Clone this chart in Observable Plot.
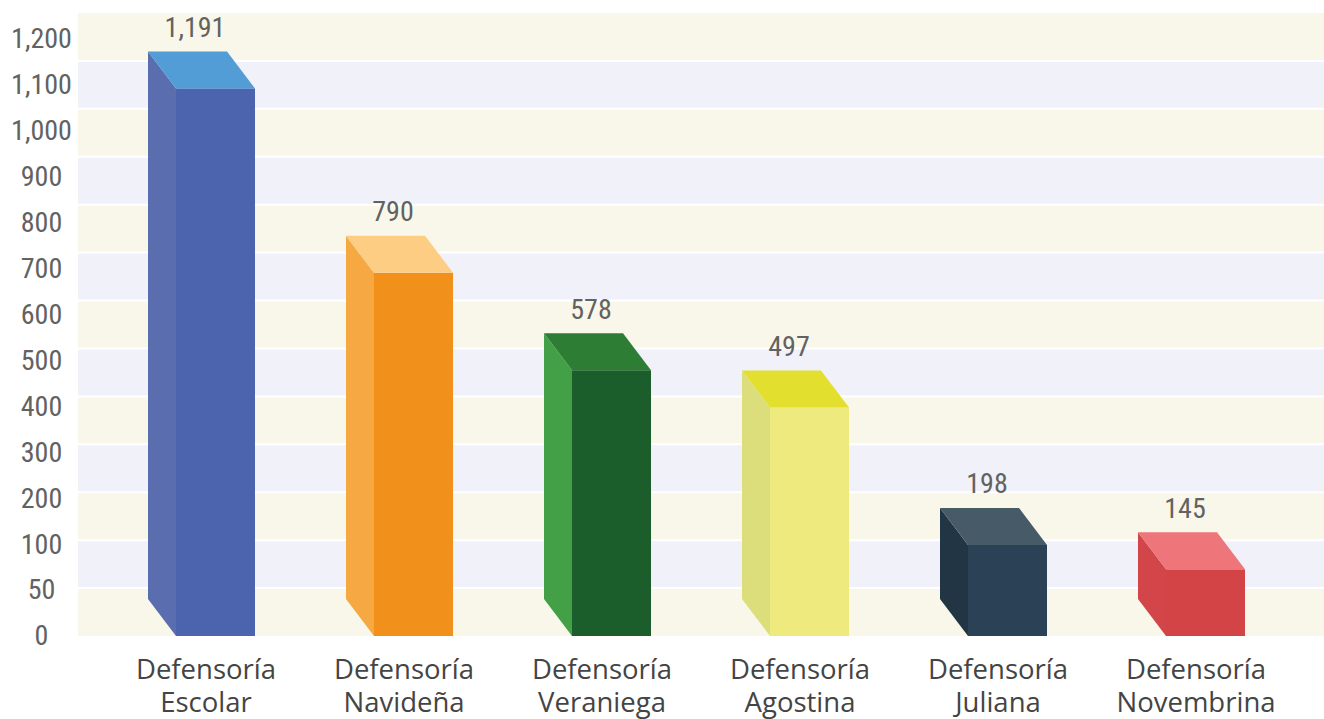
<!DOCTYPE html>
<html>
<head>
<meta charset="utf-8">
<script src="https://cdn.jsdelivr.net/npm/d3@7"></script>
<script src="https://cdn.jsdelivr.net/npm/@observablehq/plot@0.6"></script>
<style>
  html, body { margin: 0; padding: 0; background: #ffffff; }
  #chart { width: 1324px; height: 719px; }
</style>
</head>
<body>
<div id="chart"></div>
<script>
// ---- data ----
const categories = ["Defensoría Escolar", "Defensoría Navideña", "Defensoría Veraniega", "Defensoría Agostina", "Defensoría Juliana", "Defensoría Novembrina"];
const xLabels = ["Defensoría\nEscolar", "Defensoría\nNavideña", "Defensoría\nVeraniega", "Defensoría\nAgostina", "Defensoría\nJuliana", "Defensoría\nNovembrina"];
const counts = [1191, 790, 578, 497, 198, 145];
const tickValues = [0, 100, 200, 300, 400, 500, 600, 700, 800, 900, 1000, 1100, 1200, 1300];
const tickLabels = ["0", "50", "100", "200", "300", "400", "500", "600", "700", "800", "900", "1,000", "1,100", "1,200"];

// ---- palette ----
const frontColors = ["#4c63ad", "#f2901c", "#1b5e2b", "#eeea7e", "#2b4155", "#d24445"];
const sideColors  = ["#5a6dae", "#f6a843", "#43a047", "#dcde7c", "#223544", "#d24548"];
const topColors   = ["#529dd6", "#fdcd84", "#2e7d35", "#e2df2e", "#475a67", "#ee767a"];
const stripeColors = ["#f9f7e9", "#f1f1fa"];

const data = categories.map((c, i) => ({name: c, value: counts[i], i}));

const FRONT_DX = 10;   // front face offset (px)
const DEPTH_X = 28;    // 3D depth (px)
const DEPTH_Y = 37;
const numFont = "'Liberation Sans Narrow', 'Roboto Condensed', 'Arial Narrow', Roboto, sans-serif";

function findScales(args) {
  return args.find(a => a && typeof a.x === "function" && typeof a.y === "function");
}
function findDims(args) {
  return args.find(a => a && typeof a.marginTop === "number" && typeof a.width === "number");
}

// background stripes (13 equal horizontal bands of the frame)
function stripes(...args) {
  const d = findDims(args);
  const g = d3.create("svg:g");
  const top = d.marginTop, bottom = d.height - d.marginBottom;
  const left = d.marginLeft, right = d.width - d.marginRight;
  const n = 13, h = (bottom - top) / n;
  for (let k = 0; k < n; k++) {
    g.append("rect")
      .attr("x", left).attr("y", top + k * h)
      .attr("width", right - left).attr("height", h)
      .attr("fill", stripeColors[k % 2]);
  }
  for (let k = 1; k < n; k++) {
    g.append("line")
      .attr("x1", left).attr("x2", right)
      .attr("y1", top + k * h).attr("y2", top + k * h)
      .attr("stroke", "#ffffff").attr("stroke-width", 2);
  }
  return g.node();
}

// side and top faces of the 3D bars, positioned through Plot's scales
function faces(...args) {
  const s = findScales(args);
  const bw = s.x.bandwidth ? s.x.bandwidth() : s.scales.x.bandwidth;
  const g = d3.create("svg:g");
  data.forEach(d => {
    const xf = s.x(d.name) + FRONT_DX;
    const yt = s.y(d.value);
    const yb = s.y(0);
    g.append("path")
      .attr("d", `M${xf},${yt}L${xf},${yb}L${xf - DEPTH_X},${yb - DEPTH_Y}L${xf - DEPTH_X},${yt - DEPTH_Y}Z`)
      .attr("fill", sideColors[d.i]);
    g.append("path")
      .attr("d", `M${xf},${yt}L${xf + bw},${yt}L${xf + bw - DEPTH_X},${yt - DEPTH_Y}L${xf - DEPTH_X},${yt - DEPTH_Y}Z`)
      .attr("fill", topColors[d.i]);
  });
  return g.node();
}

const fmt = d3.format(",");

const chart = Plot.plot({
  width: 1324,
  height: 719,
  marginTop: 13,
  marginBottom: 83,
  marginLeft: 78,
  marginRight: 0,
  style: {background: "#ffffff", overflow: "visible"},
  x: {domain: categories, paddingInner: 0.6, paddingOuter: 0.44, axis: null},
  y: {domain: [0, 1355], axis: null},
  color: {type: "identity"},
  marks: [
    stripes,
    Plot.barY(data, {x: "name", y: "value", fill: d => frontColors[d.i], dx: FRONT_DX, insetLeft: 0, insetRight: 0}),
    faces,
    Plot.text(tickValues, {
      y: d => d, text: (d, i) => tickLabels[i],
      frameAnchor: "left", dx: -37, textAnchor: "middle", lineAnchor: "middle",
      fontSize: 28, fontFamily: numFont, fill: "#626262"
    }),
    Plot.text(data, {
      x: "name", y: "value", text: d => fmt(d.value),
      dx: -11, dy: -61, textAnchor: "middle", lineAnchor: "middle",
      fontSize: 28, fontFamily: numFont, fill: "#626262"
    }),
    Plot.text(data, {
      x: "name", text: d => xLabels[d.i],
      frameAnchor: "bottom", lineAnchor: "top", dy: 19, lineHeight: 1.2,
      textAnchor: "middle", fontSize: 27.5, fontFamily: "'Open Sans', 'Noto Sans', sans-serif", fill: "#444444"
    })
  ]
});

document.getElementById("chart").appendChild(chart);
</script>
</body>
</html>
